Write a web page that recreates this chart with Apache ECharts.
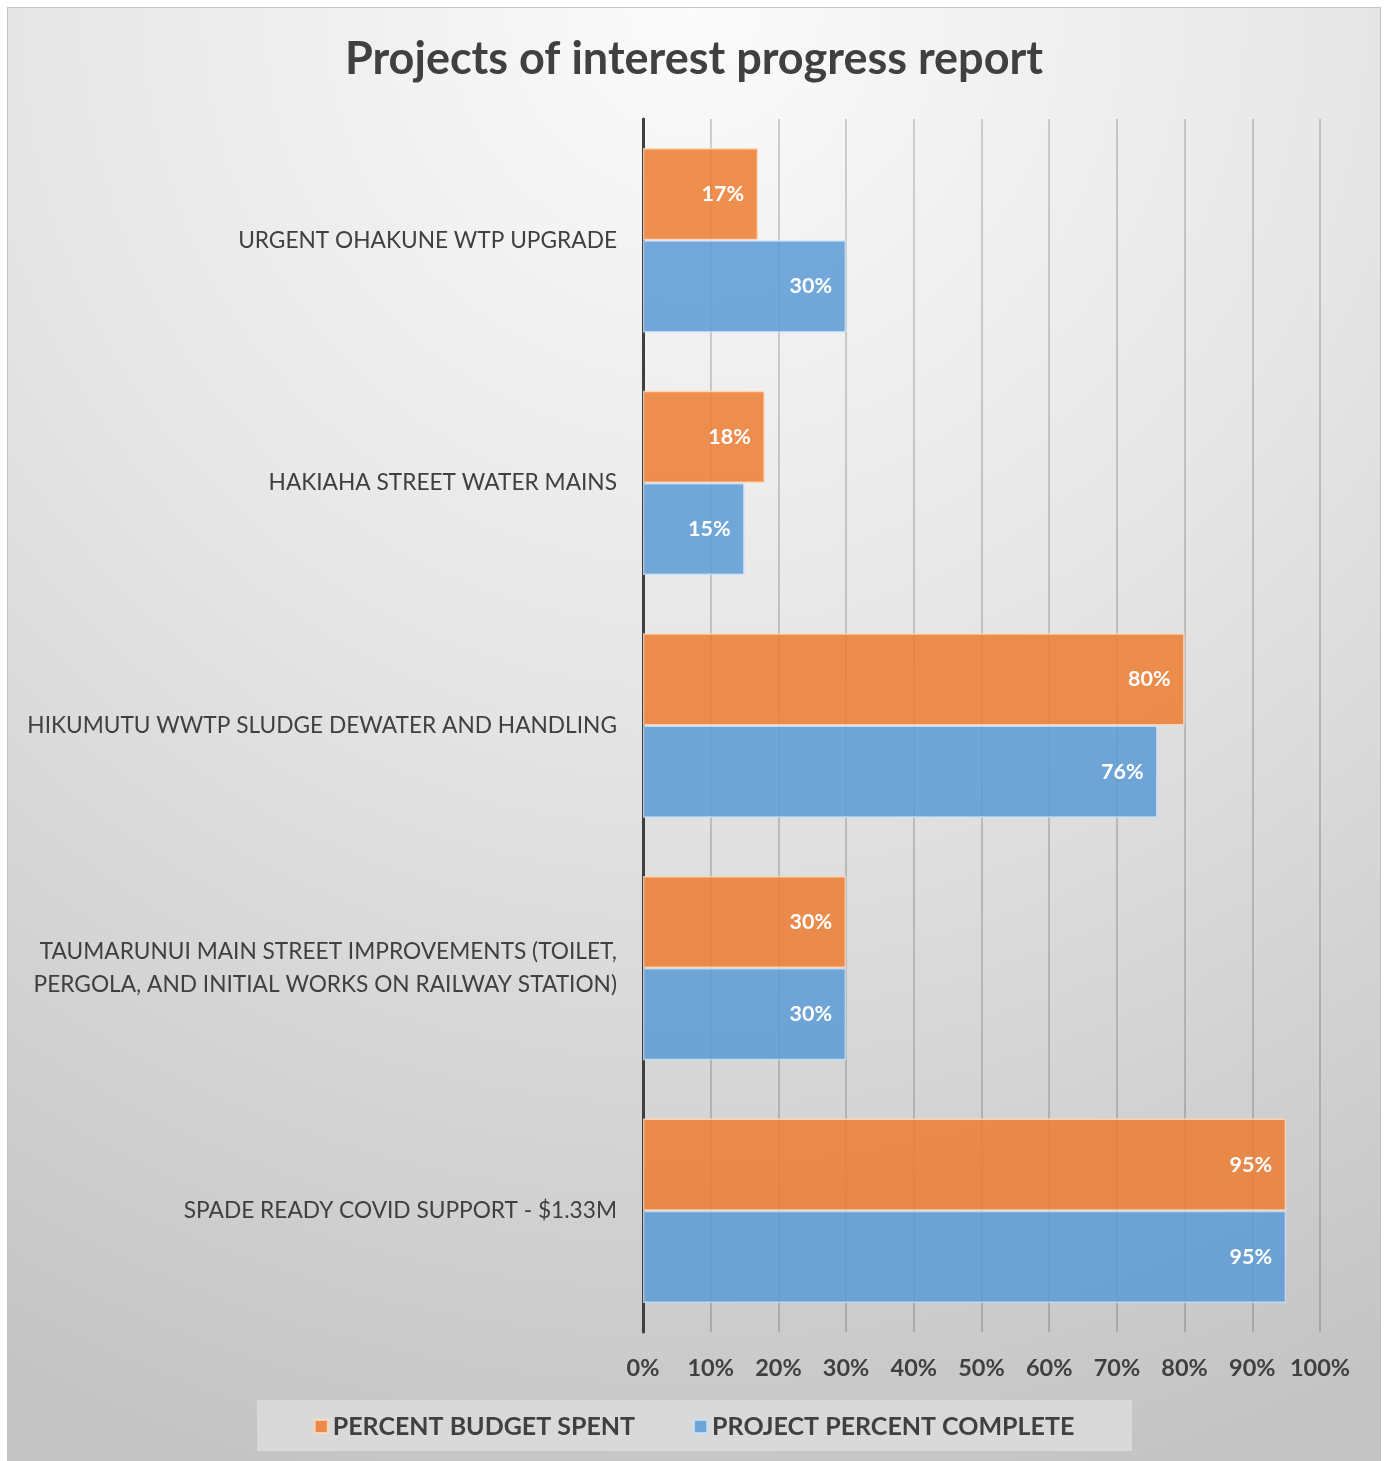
<!DOCTYPE html>
<html><head><meta charset="utf-8">
<script src="https://cdn.jsdelivr.net/npm/echarts@6/dist/echarts.min.js"></script>
<style>
html,body{margin:0;padding:0;background:#fff;}
#wrap{position:absolute;left:7px;top:7px;width:1372px;height:1452px;border:1px solid #c4c4c4;
background:radial-gradient(ellipse 110% 105% at 50% 0%, #fbfbfb 0%, #e6e6e6 45%, #c4c4c4 100%);}
#chart{width:1372px;height:1452px;}
</style></head>
<body><div id="wrap"><div id="chart"></div></div>
<script>
const categories = [
  "URGENT OHAKUNE WTP UPGRADE",
  "HAKIAHA STREET WATER MAINS",
  "HIKUMUTU WWTP SLUDGE DEWATER AND HANDLING",
  "TAUMARUNUI MAIN STREET IMPROVEMENTS (TOILET,\nPERGOLA, AND INITIAL WORKS ON RAILWAY STATION)",
  "SPADE READY COVID SUPPORT - $1.33M"
];
const budgetSpent = [17, 18, 80, 30, 95];
const percentComplete = [30, 15, 76, 30, 95];
const seriesNames = ["PERCENT BUDGET SPENT", "PROJECT PERCENT COMPLETE"];
const titleText = "Projects of interest progress report";

const FONT = "Lato, 'Open Sans', sans-serif";
const chart = echarts.init(document.getElementById('chart'));
const lbl = {show:true, position:'insideRight', distance:14, color:'#fff', fontWeight:'bold', fontSize:21.5, fontFamily:FONT, formatter: p => p.value + '%'};
chart.setOption({
  backgroundColor:'transparent',
  title:{text:titleText, left:'center', top:24, textStyle:{fontFamily:FONT, fontWeight:'bold', fontSize:45, color:'#404040'}},
  graphic:[{type:'rect', shape:{x:249, y:1392, width:875, height:51}, style:{fill:'#d9d9d9'}, z:-1}],
  legend:{bottom:16, left:'center', itemWidth:13, itemHeight:13, itemGap:58, icon:'rect',
    textStyle:{fontFamily:FONT, fontWeight:'bold', fontSize:25, color:'#404040'}},
  grid:{left:635, right:60, top:111, bottom:128},
  xAxis:{type:'value', min:0, max:100, interval:10,
    axisLine:{show:false}, axisTick:{show:false},
    axisLabel:{formatter:'{value}%', margin:24, fontFamily:FONT, fontWeight:'bold', fontSize:23.5, color:'#404040'},
    splitLine:{lineStyle:{color:'rgba(0,0,0,0.22)', width:1.5}}},
  yAxis:{type:'category', data:categories, inverse:true,
    axisLine:{lineStyle:{color:'#404040', width:3}}, axisTick:{show:false},
    axisLabel:{margin:26, fontFamily:FONT, fontSize:22.7, color:'#404040', lineHeight:33, align:'right'}},
  series:[
    {name:seriesNames[0], type:'bar', data:budgetSpent, barGap:'0%', barCategoryGap:'24%',
     itemStyle:{color:'rgba(237,125,49,0.85)', borderColor:'rgba(255,220,190,0.8)', borderWidth:1.5}, label:lbl},
    {name:seriesNames[1], type:'bar', data:percentComplete, barGap:'0%', barCategoryGap:'24%',
     itemStyle:{color:'rgba(91,155,213,0.85)', borderColor:'rgba(200,225,250,0.8)', borderWidth:1.5}, label:lbl}
  ]
});
</script></body></html>
